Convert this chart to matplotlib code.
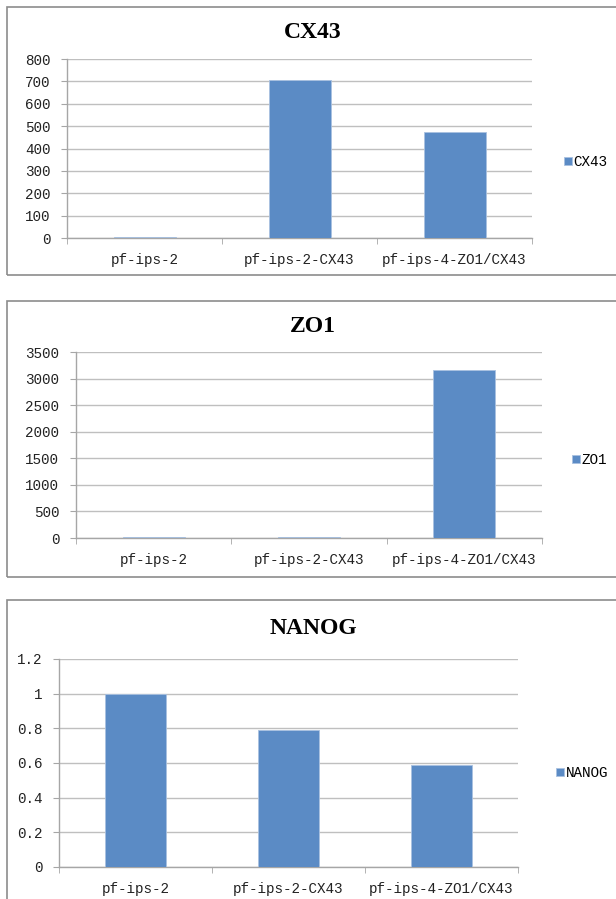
import matplotlib.pyplot as plt
import matplotlib.patches as patches
import numpy as np

# datos de cada panel
categorias = ['pf-ips-2', 'pf-ips-2-CX43', 'pf-ips-4-ZO1/CX43']
cx43 = [3, 705, 475]
zo1 = [12, 12, 3155]
nanog = [1.0, 0.79, 0.587]

cx43_ticks = [0, 100, 200, 300, 400, 500, 600, 700, 800]
zo1_ticks = [0, 500, 1000, 1500, 2000, 2500, 3000, 3500]
nanog_ticks = [0, 0.2, 0.4, 0.6, 0.8, 1.0, 1.2]
nanog_ticklabels = ['0', '0.2', '0.4', '0.6', '0.8', '1', '1.2']

W, H = 616, 899
azul = '#5B8BC5'
gris = '#BFBFBF'
fuente = 'Liberation Mono'

fig = plt.figure(figsize=(W / 100, H / 100), dpi=100)


def px_axes(left, right, top, bottom):
    return fig.add_axes([left / W, 1 - bottom / H, (right - left) / W, (bottom - top) / H])


def marco(top, bottom):
    rect = patches.Rectangle((7 / W, 1 - bottom / H), 1, (bottom - top) / H,
                             transform=fig.transFigure, fill=False,
                             edgecolor='#8C8C8C', linewidth=1.2)
    fig.patches.append(rect)


def panel(ax, valores, ticks, ticklabels, titulo, ymax, leg_x, leg_y, title_y):
    x = np.arange(len(categorias))
    ax.bar(x, valores, width=0.4, color=azul, edgecolor='#A9C1E0', linewidth=0.6, zorder=3,
           label=titulo)
    ax.set_xlim(-0.5, len(categorias) - 0.5)
    ax.set_ylim(0, ymax)
    ax.set_yticks(ticks)
    ax.set_yticklabels(ticklabels if ticklabels else [str(t) for t in ticks],
                       fontfamily=fuente, fontsize=10.3, color='#222222')
    ax.set_xticks(x)
    ax.set_xticklabels(categorias, fontfamily=fuente, fontsize=10.3, color='#222222')
    ax.set_xticks(np.arange(len(categorias) + 1) - 0.5, minor=True)
    ax.tick_params(axis='x', which='major', length=0, pad=11)
    ax.tick_params(axis='x', which='minor', length=4, color='#A6A6A6', direction='out')
    ax.tick_params(axis='y', length=4, pad=8, color='#A6A6A6')
    ax.grid(axis='y', color=gris, linewidth=1.0, zorder=0)
    for s in ['top', 'right']:
        ax.spines[s].set_visible(False)
    for s in ['left', 'bottom']:
        ax.spines[s].set_color('#A6A6A6')
        ax.spines[s].set_linewidth(1.0)
    fig.text(313 / W, 1 - title_y / H, titulo, ha='center', va='center',
             fontfamily='Liberation Serif', fontweight='bold', fontsize=17)
    ax.legend(loc='center left', bbox_to_anchor=(leg_x, leg_y), bbox_transform=fig.transFigure,
              frameon=False, handlelength=0.55, handleheight=0.55, handletextpad=0.15,
              borderaxespad=0, prop={'family': fuente, 'size': 10.3})


marco(7, 275)
ax1 = px_axes(67, 532, 59, 238)
panel(ax1, cx43, cx43_ticks, None, 'CX43', 800, 558 / W, 1 - 162 / H, 32)

marco(301, 577)
ax2 = px_axes(76, 542, 352, 538)
panel(ax2, zo1, zo1_ticks, None, 'ZO1', 3500, 566 / W, 1 - 460 / H, 326)

marco(600, 960)
ax3 = px_axes(59, 518, 659, 867)
panel(ax3, nanog, nanog_ticks, nanog_ticklabels, 'NANOG', 1.2, 550 / W, 1 - 773 / H, 628)

fig.savefig('out.png', dpi=100)
